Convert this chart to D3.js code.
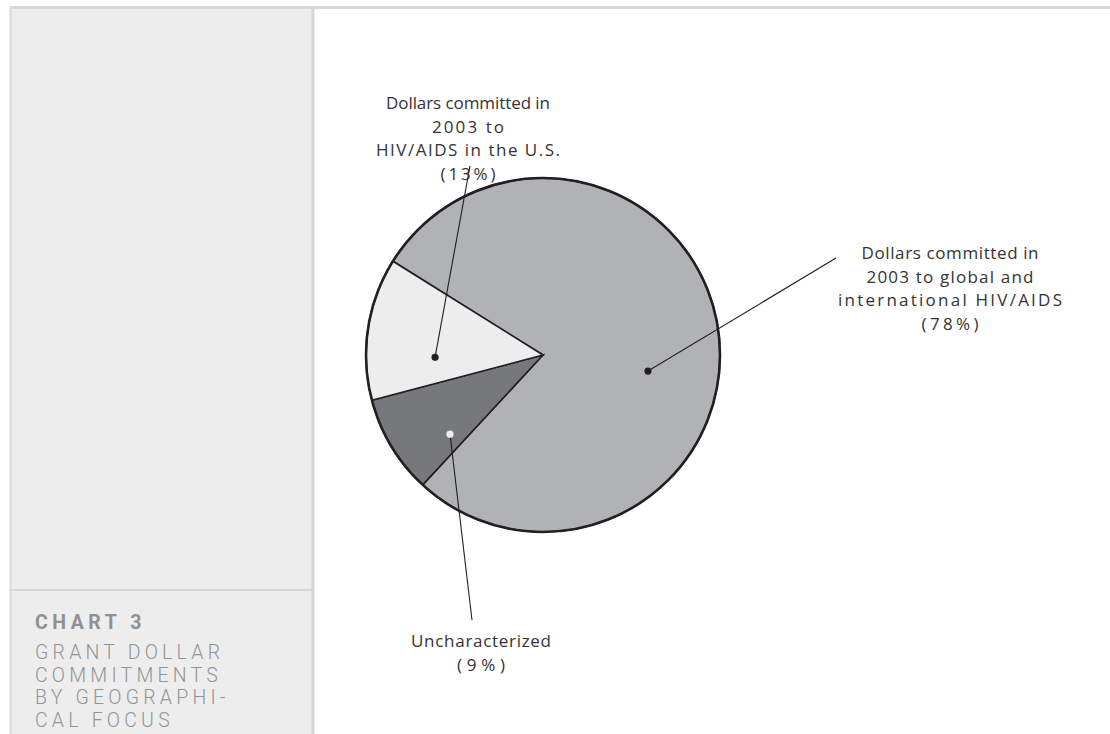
<!DOCTYPE html>
<html>
<head>
<meta charset="utf-8">
<script src="https://cdn.jsdelivr.net/npm/d3@7"></script>
<style>
  html, body { margin: 0; padding: 0; background: #ffffff; }
  svg { display: block; }
</style>
</head>
<body>
<svg id="chart" width="1110" height="734"></svg>
<script>
// ---- data ----
const categories = [
  "Dollars committed in 2003 to global and international HIV/AIDS",
  "Uncharacterized",
  "Dollars committed in 2003 to HIV/AIDS in the U.S."
];
const values = [78, 9, 13];
const percentLabels = ["(78%)", "(9%)", "(13%)"];
const labelLines = [
  ["Dollars committed in", "2003 to global and", "international HIV/AIDS", "(78%)"],
  ["Uncharacterized", "(9%)"],
  ["Dollars committed in", "2003 to", "HIV/AIDS in the U.S.", "(13%)"]
];
const chartNumber = "CHART 3";
const chartTitleLines = ["GRANT DOLLAR", "COMMITMENTS", "BY GEOGRAPHI-", "CAL FOCUS"];

// ---- styling / layout ----
const W = 1110, H = 734;
const fills = ["#b1b2b5", "#77787b", "#ededed"];
const dotFills = ["#231f20", "#ededed", "#231f20"];
const cx = 543, cy = 355, R = 177;
const dotPlace = [{t: 0.558, r: 0.60}, {t: 0.21, r: 0.69}, {t: 0.29, r: 0.61}];
const labelPlace = [
  {ex: 836, ey: 258, x: 950, y: 259, widths: [177, 167, 224, 57]},
  {ex: 472, ey: 620, x: 481, y: 647, widths: [140, 48]},
  {ex: 470, ey: 166, x: 468, y: 109, widths: [164, 72, 184, 55]}
];
const lineH = 23.5;

const svg = d3.select("#chart");

// frame
svg.append("rect").attr("x", 10).attr("y", 8).attr("width", 303).attr("height", H - 8)
  .attr("fill", "#ededed");
svg.append("line").attr("x1", 10).attr("x2", W).attr("y1", 7.5).attr("y2", 7.5)
  .attr("stroke", "#d8d8d8").attr("stroke-width", 3);
svg.append("line").attr("x1", 10.5).attr("x2", 10.5).attr("y1", 7).attr("y2", H)
  .attr("stroke", "#dadada").attr("stroke-width", 2);
svg.append("line").attr("x1", 313).attr("x2", 313).attr("y1", 7).attr("y2", H)
  .attr("stroke", "#d6d6d6").attr("stroke-width", 3);
svg.append("line").attr("x1", 10).attr("x2", 312).attr("y1", 590).attr("y2", 590)
  .attr("stroke", "#d6d6d6").attr("stroke-width", 2);

// panel text
svg.append("text").attr("x", 35).attr("y", 629)
  .attr("font-family", "Roboto, 'Liberation Sans', sans-serif")
  .attr("font-weight", 700).attr("font-size", 19.5).attr("letter-spacing", 4.5)
  .attr("fill", "#8f9093").text(chartNumber);
svg.append("g").selectAll("text").data(chartTitleLines).join("text")
  .attr("x", 35).attr("y", (d, i) => 659 + i * 22.5)
  .attr("font-family", "Roboto, 'Liberation Sans', sans-serif")
  .attr("font-weight", 300).attr("font-size", 19.5).attr("letter-spacing", 4.2)
  .attr("fill", "#939497").text(d => d);

// pie
const pie = d3.pie().sort(null).startAngle(-58 * Math.PI / 180).endAngle(302 * Math.PI / 180);
const arcs = pie(values);
const arc = d3.arc().innerRadius(0).outerRadius(R);
const g = svg.append("g").attr("transform", `translate(${cx},${cy})`);
g.selectAll("path.slice").data(arcs).join("path").attr("class", "slice")
  .attr("d", arc).attr("fill", (d, i) => fills[i])
  .attr("stroke", "#231f20").attr("stroke-width", 1.6).attr("stroke-linejoin", "miter");
g.append("circle").attr("r", R).attr("fill", "none").attr("stroke", "#231f20").attr("stroke-width", 2.6);

// leaders and dots
arcs.forEach((a, i) => {
  const ang = a.startAngle + (a.endAngle - a.startAngle) * dotPlace[i].t;
  const rr = R * dotPlace[i].r;
  const px = cx + rr * Math.sin(ang), py = cy - rr * Math.cos(ang);
  const lp = labelPlace[i];
  svg.append("line").attr("x1", px).attr("y1", py).attr("x2", lp.ex).attr("y2", lp.ey)
    .attr("stroke", "#231f20").attr("stroke-width", 1.1);
  svg.append("circle").attr("cx", px).attr("cy", py).attr("r", 3.6).attr("fill", dotFills[i]);
  svg.append("g").selectAll("text").data(labelLines[i]).join("text")
    .attr("x", lp.x).attr("y", (d, j) => lp.y + j * lineH)
    .attr("text-anchor", "middle")
    .attr("font-family", "'Open Sans', 'DejaVu Sans', sans-serif")
    .attr("font-size", 17)
    .attr("textLength", (d, j) => lp.widths[j]).attr("lengthAdjust", "spacing")
    .attr("fill", "#333333").text(d => d);
});
</script>
</body>
</html>
